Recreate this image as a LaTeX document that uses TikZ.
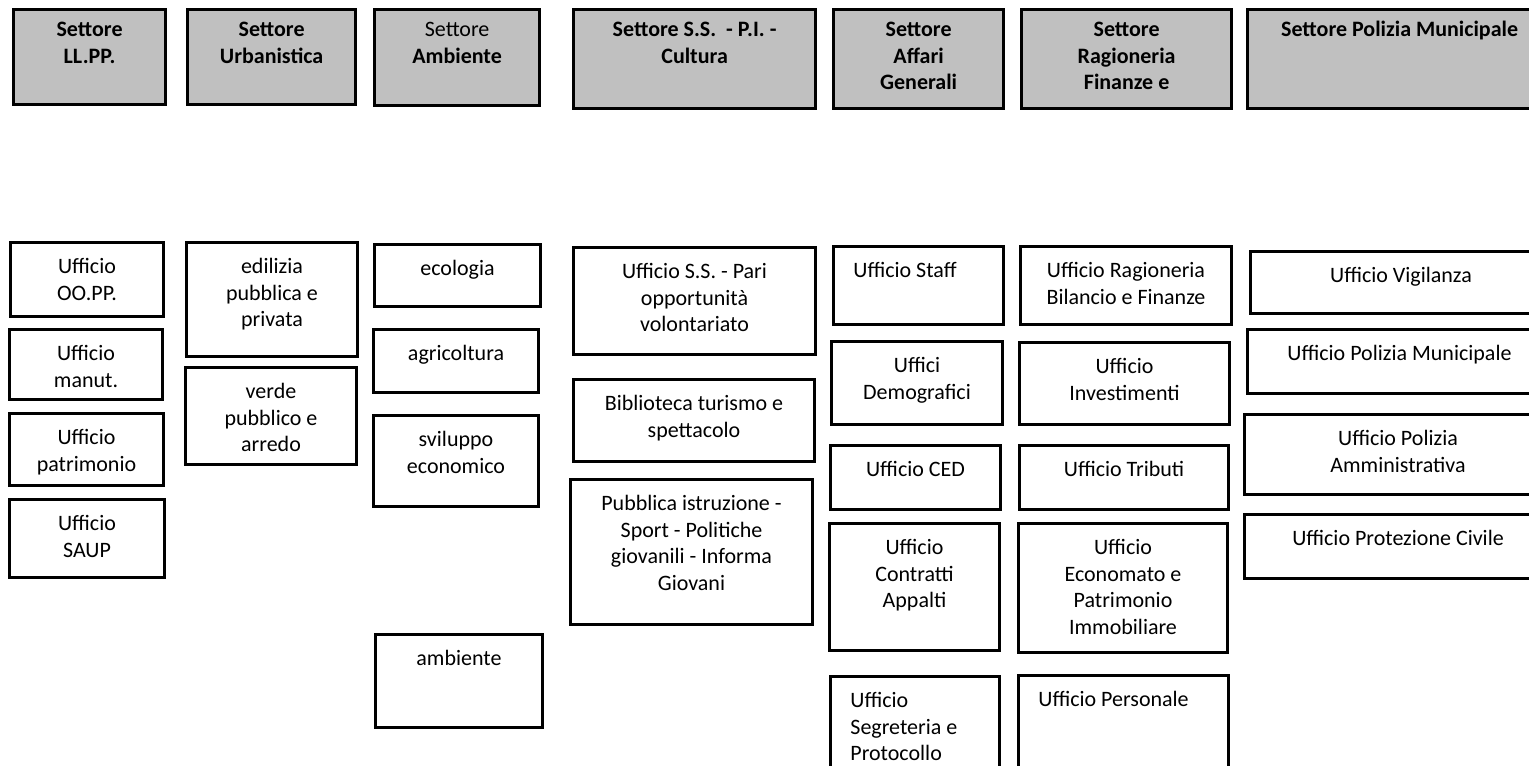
\documentclass[tikz,border=0pt]{standalone}
\usepackage{fontspec}
\setmainfont{Carlito}
\definecolor{hgray}{HTML}{C0C0C0}
\tikzset{
  box/.style={draw=black, line width=1.5pt, fill=white, anchor=north west, inner sep=0pt, rectangle},
  hdbx/.style={box, fill=hgray, line width=1.6pt},
  lbl/.style={anchor=north, align=center, inner sep=0pt, font=\fontsize{11pt}{13.4pt}\selectfont},
  hlbl/.style={lbl, font=\fontsize{11pt}{13.4pt}\selectfont\bfseries},
  llbl/.style={lbl, anchor=north west, align=left},
}
% header box: name, x1, y1, x2, y2, text
\newcommand\hdbox[6]{%
  \node[hdbx, minimum width={(#4-#2)*0.5pt}, minimum height={(#5-#3)*0.5pt}] (#1) at (#2,#3) {};
  \node[hlbl] (#1-t) at ([yshift=-4.6pt]#1.north) {\strut #6};
}
% centred office box
\newcommand\ctbox[6]{%
  \node[box, minimum width={(#4-#2)*0.5pt}, minimum height={(#5-#3)*0.5pt}] (#1) at (#2,#3) {};
  \node[lbl] (#1-t) at ([yshift=-6.6pt]#1.north) {\strut #6};
}
% left aligned office box
\newcommand\ltbox[6]{%
  \node[box, minimum width={(#4-#2)*0.5pt}, minimum height={(#5-#3)*0.5pt}] (#1) at (#2,#3) {};
  \node[llbl] (#1-t) at ([xshift=10.5pt,yshift=-6.6pt]#1.north west) {\strut #6};
}
\begin{document}
\begin{tikzpicture}[x=0.5pt, y=-0.5pt]
\useasboundingbox (0,0) rectangle (1529,765);
\fill[white] (0,0) rectangle (1529,765);
\clip (0,0) rectangle (1529,765);
% headers
\hdbox{h1}{12}{8}{164}{103}{Settore\\LL.PP.}
\hdbox{h2}{186}{8}{354}{103}{Settore\\Urbanistica}
\hdbox{h3}{373}{8}{538}{104}{{\mdseries Settore}\\Ambiente}
\hdbox{h4}{572}{8}{814}{107}{Settore S.S.\ \ - P.I. -\\Cultura}
\hdbox{h5}{832}{8}{1002}{107}{Settore\\Affari\\Generali}
\hdbox{h6}{1020}{8}{1230}{107}{Settore\\Ragioneria\\Finanze e}
\hdbox{h7}{1246}{8}{1550}{107}{Settore Polizia Municipale}
% column 1
\ctbox{a1}{9}{241}{162}{315}{Ufficio\\OO.PP.}
\ctbox{a2}{8}{328}{161}{398}{Ufficio\\manut.}
\ctbox{a3}{8}{412}{162}{484}{Ufficio\\patrimonio}
\ctbox{a4}{8}{498}{163}{576}{Ufficio\\SAUP}
% column 2
\ctbox{b1}{185}{241}{356}{355}{edilizia\\pubblica e\\privata}
\ctbox{b2}{184}{366}{355}{463}{verde\\pubblico e\\arredo}
% column 3
\ctbox{c1}{373}{243}{539}{305}{ecologia}
\ctbox{c2}{372}{328}{537}{391}{agricoltura}
\ctbox{c3}{372}{414}{537}{505}{sviluppo\\economico}
\ctbox{c4}{374}{633}{541}{726}{ambiente}
% column 4
\ctbox{d1}{572}{246}{814}{353}{Ufficio S.S. - Pari\\opportunità\\volontariato}
\ctbox{d2}{572}{378}{813}{460}{Biblioteca turismo e\\spettacolo}
\ctbox{d3}{569}{478}{811}{623}{Pubblica istruzione -\\Sport - Politiche\\giovanili - Informa\\Giovani}
% column 5
\ltbox{e1}{832}{245}{1002}{323}{Ufficio Staff}
\ctbox{e2}{830}{340}{1001}{423}{Uffici\\Demografici}
\ctbox{e3}{829}{444}{999}{508}{Ufficio CED}
\ctbox{e4}{828}{522}{998}{649}{Ufficio\\Contratti\\Appalti}
\ltbox{e5}{829}{675}{998}{800}{Ufficio\\Segreteria e\\Protocollo}
% column 6
\ctbox{f1}{1019}{245}{1230}{323}{Ufficio Ragioneria\\Bilancio e Finanze}
\ctbox{f2}{1018}{341}{1228}{423}{Ufficio\\Investimenti}
\ctbox{f3}{1018}{444}{1227}{508}{Ufficio Tributi}
\ctbox{f4}{1017}{522}{1226}{651}{Ufficio\\Economato e\\Patrimonio\\Immobiliare}
\ltbox{f5}{1017}{674}{1227}{800}{Ufficio Personale}
% column 7
\ctbox{g1}{1249}{250}{1550}{312}{Ufficio Vigilanza}
\ctbox{g2}{1246}{328}{1550}{392}{Ufficio Polizia Municipale}
\ctbox{g3}{1243}{413}{1550}{493}{Ufficio Polizia\\Amministrativa}
\ctbox{g4}{1243}{513}{1550}{577}{Ufficio Protezione Civile}
\end{tikzpicture}
\end{document}
